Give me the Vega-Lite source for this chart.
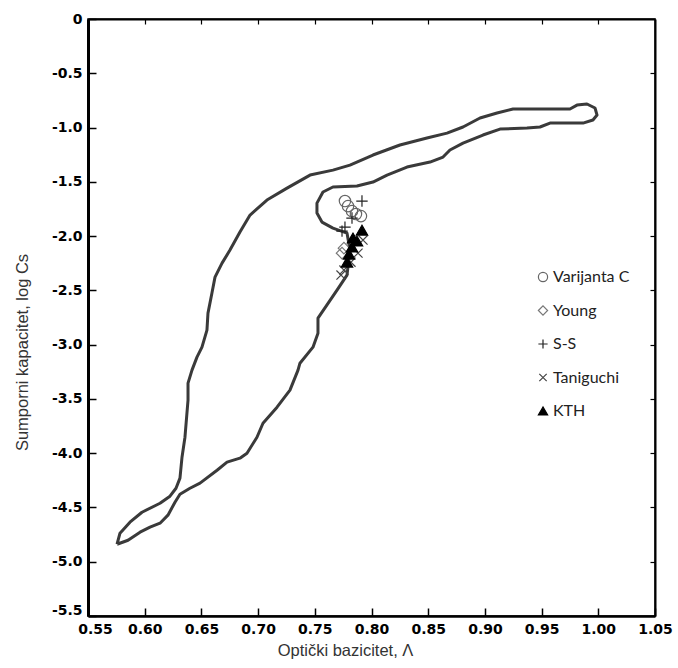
{
  "$schema": "https://vega.github.io/schema/vega-lite/v6.json",
  "autosize": {"type": "none"},
  "padding": {"left": 88, "top": 19, "right": 23, "bottom": 52},
  "width": 567,
  "height": 597,
  "background": "white",
  "config": {
    "view": {"stroke": "black", "strokeWidth": 1.5},
    "axis": {
      "grid": false,
      "domainColor": "black",
      "tickColor": "black",
      "labelColor": "black",
      "labelFont": "DejaVu Sans",
      "labelFontWeight": "bold",
      "labelFontSize": 14,
      "titleFont": "Liberation Sans",
      "titleFontWeight": "normal",
      "titleFontSize": 16.5,
      "titleColor": "#333333"
    }
  },
  "datasets": {
    "loop": [
      {"i": 0, "lambda": 0.5756, "logCs": -4.839},
      {"i": 1, "lambda": 0.5782, "logCs": -4.737},
      {"i": 2, "lambda": 0.587, "logCs": -4.636},
      {"i": 3, "lambda": 0.5976, "logCs": -4.544},
      {"i": 4, "lambda": 0.6135, "logCs": -4.461},
      {"i": 5, "lambda": 0.6223, "logCs": -4.396},
      {"i": 6, "lambda": 0.6276, "logCs": -4.323},
      {"i": 7, "lambda": 0.6311, "logCs": -4.23},
      {"i": 8, "lambda": 0.6329, "logCs": -4.037},
      {"i": 9, "lambda": 0.6355, "logCs": -3.853},
      {"i": 10, "lambda": 0.6382, "logCs": -3.512},
      {"i": 11, "lambda": 0.6382, "logCs": -3.355},
      {"i": 12, "lambda": 0.6417, "logCs": -3.235},
      {"i": 13, "lambda": 0.6461, "logCs": -3.115},
      {"i": 14, "lambda": 0.6505, "logCs": -3.023},
      {"i": 15, "lambda": 0.6549, "logCs": -2.866},
      {"i": 16, "lambda": 0.6558, "logCs": -2.71},
      {"i": 17, "lambda": 0.6593, "logCs": -2.525},
      {"i": 18, "lambda": 0.662, "logCs": -2.378},
      {"i": 19, "lambda": 0.6682, "logCs": -2.249},
      {"i": 20, "lambda": 0.6752, "logCs": -2.129},
      {"i": 21, "lambda": 0.684, "logCs": -1.963},
      {"i": 22, "lambda": 0.6929, "logCs": -1.806},
      {"i": 23, "lambda": 0.7078, "logCs": -1.668},
      {"i": 24, "lambda": 0.7255, "logCs": -1.558},
      {"i": 25, "lambda": 0.7458, "logCs": -1.438},
      {"i": 26, "lambda": 0.766, "logCs": -1.392},
      {"i": 27, "lambda": 0.781, "logCs": -1.346},
      {"i": 28, "lambda": 0.8013, "logCs": -1.253},
      {"i": 29, "lambda": 0.8251, "logCs": -1.161},
      {"i": 30, "lambda": 0.8489, "logCs": -1.097},
      {"i": 31, "lambda": 0.8666, "logCs": -1.051},
      {"i": 32, "lambda": 0.8807, "logCs": -0.995},
      {"i": 33, "lambda": 0.8957, "logCs": -0.912},
      {"i": 34, "lambda": 0.9107, "logCs": -0.866},
      {"i": 35, "lambda": 0.9248, "logCs": -0.829},
      {"i": 36, "lambda": 0.975, "logCs": -0.829},
      {"i": 37, "lambda": 0.9812, "logCs": -0.793},
      {"i": 38, "lambda": 0.99, "logCs": -0.783},
      {"i": 39, "lambda": 0.9971, "logCs": -0.82},
      {"i": 40, "lambda": 0.9989, "logCs": -0.885},
      {"i": 41, "lambda": 0.9953, "logCs": -0.931},
      {"i": 42, "lambda": 0.9865, "logCs": -0.959},
      {"i": 43, "lambda": 0.9574, "logCs": -0.959},
      {"i": 44, "lambda": 0.9486, "logCs": -0.995},
      {"i": 45, "lambda": 0.9371, "logCs": -1.005},
      {"i": 46, "lambda": 0.9133, "logCs": -1.014},
      {"i": 47, "lambda": 0.8983, "logCs": -1.069},
      {"i": 48, "lambda": 0.8807, "logCs": -1.143},
      {"i": 49, "lambda": 0.8692, "logCs": -1.207},
      {"i": 50, "lambda": 0.8631, "logCs": -1.272},
      {"i": 51, "lambda": 0.8516, "logCs": -1.318},
      {"i": 52, "lambda": 0.8313, "logCs": -1.364},
      {"i": 53, "lambda": 0.8137, "logCs": -1.438},
      {"i": 54, "lambda": 0.8013, "logCs": -1.502},
      {"i": 55, "lambda": 0.7872, "logCs": -1.539},
      {"i": 56, "lambda": 0.766, "logCs": -1.548},
      {"i": 57, "lambda": 0.7572, "logCs": -1.594},
      {"i": 58, "lambda": 0.7519, "logCs": -1.696},
      {"i": 59, "lambda": 0.7519, "logCs": -1.788},
      {"i": 60, "lambda": 0.7563, "logCs": -1.871},
      {"i": 61, "lambda": 0.766, "logCs": -1.926},
      {"i": 62, "lambda": 0.7784, "logCs": -1.972},
      {"i": 63, "lambda": 0.781, "logCs": -2.129},
      {"i": 64, "lambda": 0.7784, "logCs": -2.359},
      {"i": 65, "lambda": 0.7696, "logCs": -2.498},
      {"i": 66, "lambda": 0.7528, "logCs": -2.756},
      {"i": 67, "lambda": 0.7528, "logCs": -2.894},
      {"i": 68, "lambda": 0.7484, "logCs": -3.023},
      {"i": 69, "lambda": 0.7369, "logCs": -3.171},
      {"i": 70, "lambda": 0.7352, "logCs": -3.235},
      {"i": 71, "lambda": 0.7281, "logCs": -3.419},
      {"i": 72, "lambda": 0.7167, "logCs": -3.576},
      {"i": 73, "lambda": 0.7043, "logCs": -3.724},
      {"i": 74, "lambda": 0.699, "logCs": -3.853},
      {"i": 75, "lambda": 0.6902, "logCs": -4.0},
      {"i": 76, "lambda": 0.684, "logCs": -4.046},
      {"i": 77, "lambda": 0.6726, "logCs": -4.083},
      {"i": 78, "lambda": 0.6638, "logCs": -4.157},
      {"i": 79, "lambda": 0.6488, "logCs": -4.276},
      {"i": 80, "lambda": 0.6399, "logCs": -4.323},
      {"i": 81, "lambda": 0.6311, "logCs": -4.378},
      {"i": 82, "lambda": 0.6267, "logCs": -4.452},
      {"i": 83, "lambda": 0.6205, "logCs": -4.571},
      {"i": 84, "lambda": 0.6135, "logCs": -4.645},
      {"i": 85, "lambda": 0.6047, "logCs": -4.682},
      {"i": 86, "lambda": 0.5959, "logCs": -4.728},
      {"i": 87, "lambda": 0.5853, "logCs": -4.802},
      {"i": 88, "lambda": 0.5756, "logCs": -4.839}
    ],
    "points": [
      {"series": "Varijanta C", "lambda": 0.7766, "logCs": -1.677},
      {"series": "Varijanta C", "lambda": 0.7793, "logCs": -1.724},
      {"series": "Varijanta C", "lambda": 0.7828, "logCs": -1.77},
      {"series": "Varijanta C", "lambda": 0.7863, "logCs": -1.797},
      {"series": "Varijanta C", "lambda": 0.7907, "logCs": -1.816},
      {"series": "Young", "lambda": 0.7757, "logCs": -2.111},
      {"series": "Young", "lambda": 0.774, "logCs": -2.157},
      {"series": "S-S", "lambda": 0.7916, "logCs": -1.677},
      {"series": "S-S", "lambda": 0.7828, "logCs": -1.834},
      {"series": "S-S", "lambda": 0.7766, "logCs": -1.917},
      {"series": "S-S", "lambda": 0.774, "logCs": -1.954},
      {"series": "Taniguchi", "lambda": 0.7925, "logCs": -2.037},
      {"series": "Taniguchi", "lambda": 0.7881, "logCs": -2.157},
      {"series": "Taniguchi", "lambda": 0.7819, "logCs": -2.24},
      {"series": "Taniguchi", "lambda": 0.7757, "logCs": -2.313},
      {"series": "Taniguchi", "lambda": 0.7731, "logCs": -2.359},
      {"series": "KTH", "lambda": 0.7916, "logCs": -1.945},
      {"series": "KTH", "lambda": 0.7872, "logCs": -2.046},
      {"series": "KTH", "lambda": 0.7837, "logCs": -2.018},
      {"series": "KTH", "lambda": 0.7828, "logCs": -2.101},
      {"series": "KTH", "lambda": 0.7802, "logCs": -2.166},
      {"series": "KTH", "lambda": 0.7784, "logCs": -2.24}
    ]
  },
  "layer": [
    {
      "data": {"name": "loop"},
      "mark": {"type": "line", "color": "#3a3a3a", "strokeWidth": 3, "strokeJoin": "round"},
      "encoding": {
        "x": {
          "field": "lambda", "type": "quantitative",
          "scale": {"domain": [0.55, 1.05], "nice": false, "zero": false},
          "axis": {
            "orient": "bottom",
            "title": "Optički bazicitet, Λ",
            "values": [0.55, 0.6, 0.65, 0.7, 0.75, 0.8, 0.85, 0.9, 0.95, 1.0, 1.05],
            "format": ".2f",
            "domainWidth": 2.5,
            "tickSize": -8,
            "tickWidth": 1.5,
            "labelPadding": 14,
            "labelFlush": false,
            "labelOffset": {"condition": {"test": "datum.value == 0.55", "value": 7}, "value": 0},
            "titleX": 257,
            "titleY": 34,
            "titleBaseline": "middle"
          }
        },
        "y": {
          "field": "logCs", "type": "quantitative",
          "scale": {"domain": [-5.5, 0], "nice": false, "zero": false},
          "axis": {
            "orient": "left",
            "title": "Sumporni kapacitet, log Cs",
            "values": [0, -0.5, -1, -1.5, -2, -2.5, -3, -3.5, -4, -4.5, -5, -5.5],
            "labelExpr": "datum.value == 0 ? '0' : replace(format(datum.value, '.1f'), '\u2212', '-')",
            "domainWidth": 3,
            "tickSize": -8,
            "tickWidth": 1.5,
            "labelPadding": 14,
            "labelFlush": false,
            "labelOffset": {"condition": {"test": "datum.value == -5.5", "value": -6}, "value": 0},
            "titleX": -66,
            "titleY": 333,
            "titleAlign": "center",
            "titleBaseline": "middle"
          }
        },
        "order": {"field": "i", "type": "quantitative"}
      }
    },
    {
      "data": {"name": "points"},
      "mark": {"type": "point", "size": 130, "strokeWidth": 1.2, "opacity": 1},
      "encoding": {
        "x": {
          "field": "lambda", "type": "quantitative",
          "axis": {"orient": "top", "title": null, "labels": false, "values": [0.6, 0.65, 0.7, 0.75, 0.8, 0.85, 0.9, 0.95, 1.0], "tickSize": -5, "tickWidth": 1.2, "domainWidth": 2}
        },
        "y": {
          "field": "logCs", "type": "quantitative",
          "axis": {"orient": "right", "title": null, "labels": false, "values": [-0.5, -1, -1.5, -2, -2.5, -3, -3.5, -4, -4.5, -5], "tickSize": -5, "tickWidth": 1.2, "domainWidth": 2}
        },
        "shape": {
          "field": "series", "type": "nominal",
          "scale": {
            "domain": ["Varijanta C", "Young", "S-S", "Taniguchi", "KTH"],
            "range": ["circle", "diamond", "M-1,0L1,0M0,-1L0,1", "M-0.8,-0.8L0.8,0.8M-0.8,0.8L0.8,-0.8", "triangle-up"]
          },
          "legend": {
            "title": null,
            "orient": "none",
            "legendX": 447,
            "legendY": 250,
            "labelFont": "Lato",
            "labelFontSize": 16,
            "labelColor": "#222222",
            "labelOffset": 2,
            "symbolSize": 85,
            "symbolStrokeWidth": 1.2,
            "rowPadding": 17.5
          }
        },
        "stroke": {
          "field": "series", "type": "nominal",
          "scale": {
            "domain": ["Varijanta C", "Young", "S-S", "Taniguchi", "KTH"],
            "range": ["#666666", "#777777", "#222222", "#444444", "#000000"]
          }
        },
        "fill": {
          "field": "series", "type": "nominal",
          "scale": {
            "domain": ["Varijanta C", "Young", "S-S", "Taniguchi", "KTH"],
            "range": ["transparent", "transparent", "transparent", "transparent", "#000000"]
          }
        }
      }
    }
  ],
  "resolve": {"axis": {"x": "independent", "y": "independent"}}
}
